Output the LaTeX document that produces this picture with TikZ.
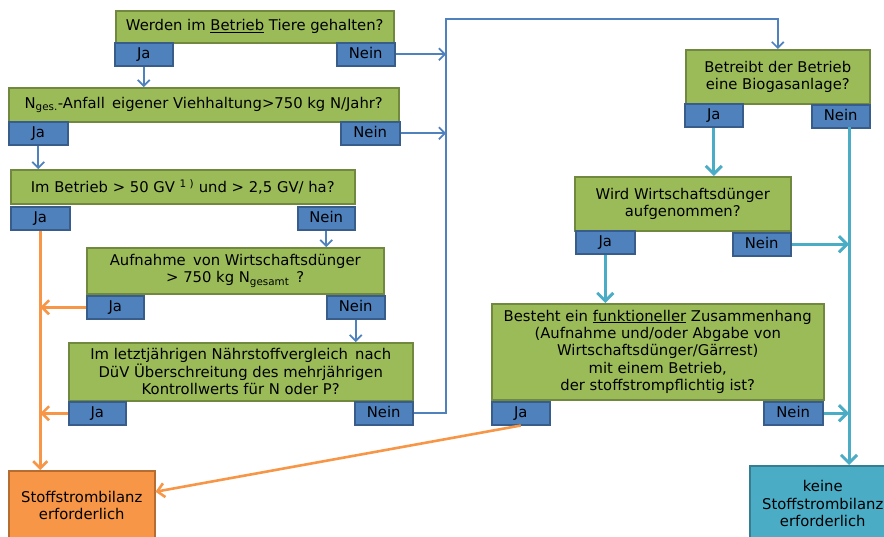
\documentclass[tikz,border=0pt]{standalone}
\usepackage{fontspec}
\setmainfont{DejaVu Sans}
\usepackage{tikz}
\usetikzlibrary{arrows.meta}
\usepackage{xcolor}
\definecolor{gruen}{HTML}{9BBB59}
\definecolor{gruenrand}{HTML}{71893F}
\definecolor{blau}{HTML}{4F81BD}
\definecolor{blaurand}{HTML}{385D8A}
\definecolor{orange}{HTML}{F79646}
\definecolor{orangerand}{HTML}{B66D31}
\definecolor{tuerkis}{HTML}{4BACC6}
\definecolor{tuerkisrand}{HTML}{357D91}
\tikzset{
  frage/.style={draw=gruenrand, fill=gruen, line width=1.5pt, anchor=north west, align=center, inner sep=0pt, font=\fontsize{14.8}{17.4}\selectfont},
  antwort/.style={draw=blaurand, fill=blau, line width=1.5pt, anchor=north west, inner sep=0pt, minimum height=23pt, text height=10.5pt, text depth=2.5pt, font=\fontsize{14.8}{17.4}\selectfont},
  blaupfeil/.style={draw=blau, line width=1.6pt, -{Straight Barb[length=6pt,width=12pt]}},
  tuerkispfeil/.style={draw=tuerkis, line width=3pt, -{Straight Barb[length=8pt,width=16pt]}},
  orangepfeil/.style={draw=orange, line width=2.6pt, -{Straight Barb[length=7pt,width=14pt]}}
}

\begin{document}
\begin{tikzpicture}[x=1pt, y=-1pt]
  \useasboundingbox (0,0) rectangle (884,536);
  % linke Spalte
  \node[frage, minimum width=278pt, minimum height=32pt] (frage1) at (115,10) {Werden im \underline{Betrieb} Tiere gehalten?};
  \node[antwort, minimum width=58pt] (ja1) at (114,42) {Ja};
  \node[antwort, minimum width=58pt] (nein1) at (336,42) {Nein};
  \node[frage, minimum width=390pt, minimum height=34pt] (frage2) at (8,87) {N\textsubscript{ges.}-Anfall\, eigener Viehhaltung>750 kg N/Jahr?};
  \node[antwort, minimum width=59pt] (ja2) at (8,121) {Ja};
  \node[antwort, minimum width=59pt] (nein2) at (340,121) {Nein};
  \node[frage, minimum width=344pt, minimum height=34pt] (frage3) at (10,169) {Im Betrieb > 50 GV \textsuperscript{1 )} und > 2,5 GV/ ha?};
  \node[antwort, minimum width=59pt] (ja3) at (10,206) {Ja};
  \node[antwort, minimum width=57pt] (nein3) at (297,206) {Nein};
  \node[frage, minimum width=297pt, minimum height=46pt] (frage4) at (86,247) {Aufnahme\, von Wirtschaftsdünger\\> 750 kg N\textsubscript{gesamt}\, ?};
  \node[antwort, minimum width=57pt] (ja4) at (86,295) {Ja};
  \node[antwort, minimum width=58pt] (nein4) at (326,295) {Nein};
  \node[frage, minimum width=344pt, minimum height=58pt] (frage5) at (68,342) {Im letztjährigen Nährstoffvergleich\, nach\\DüV Überschreitung des mehrjährigen\\Kontrollwerts für N oder P?};
  \node[antwort, minimum width=57pt] (ja5) at (68,401) {Ja};
  \node[antwort, minimum width=58pt] (nein5) at (354,401) {Nein};
  % rechte Spalte
  \node[frage, minimum width=184pt, minimum height=54pt] (frage6) at (685,49) {Betreibt der Betrieb\\eine Biogasanlage?};
  \node[antwort, minimum width=58pt] (ja6) at (684,103) {Ja};
  \node[antwort, minimum width=58pt] (nein6) at (811,104) {Nein};
  \node[frage, minimum width=216pt, minimum height=54pt] (frage7) at (574,176) {Wird Wirtschaftsdünger\\aufgenommen?};
  \node[antwort, minimum width=59pt] (ja7) at (575,230) {Ja};
  \node[antwort, minimum width=58pt] (nein7) at (732,232) {Nein};
  \node[frage, minimum width=332pt, minimum height=96pt] (frage8) at (491,303) {Besteht ein \underline{funktioneller} Zusammenhang\\(Aufnahme und/oder Abgabe von\\Wirtschaftsdünger/Gärrest)\\mit einem Betrieb,\\der stoffstrompflichtig ist?};
  \node[antwort, minimum width=58pt] (ja8) at (491,401) {Ja};
  \node[antwort, minimum width=59pt] (nein8) at (763,401) {Nein};
  % Ergebnisse
  \node[frage, draw=orangerand, fill=orange, minimum width=146pt, minimum height=70pt] (stoff) at (8,470) {Stoffstrombilanz\\erforderlich};
  \node[frage, draw=tuerkisrand, fill=tuerkis, minimum width=146pt, minimum height=76pt] (keine) at (749,465) {keine\\Stoffstrombilanz\\erforderlich};
  \coordinate (sammel) at (446,19);
  \coordinate (tuerkisbus) at (849,127);
  % Verbindungen
  \draw[blaupfeil] (ja1.south) -- (ja1.south |- frage2.north);
  \draw[blaupfeil] (ja2.south) -- (ja2.south |- frage3.north);
  \draw[blaupfeil] (nein3.south) -- (nein3.south |- frage4.north);
  \draw[blaupfeil] (nein4.south) -- (nein4.south |- frage5.north);
  \draw[blaupfeil] (nein1.east) -- (nein1.east -| sammel);
  \draw[blaupfeil] (nein2.east) -- (nein2.east -| sammel);
  \draw[blaupfeil] (nein5.east) -| (sammel) -| (frage6.north);
  \draw[orangepfeil] (ja3.south) -- (ja3.south |- stoff.north);
  \draw[orangepfeil] (ja4.west) -- (ja4.west -| ja3.south);
  \draw[orangepfeil] (ja5.west) -- (ja5.west -| ja3.south);
  \draw[orangepfeil] (ja8.south) -- ([yshift=14pt]stoff.east);
  \draw[tuerkispfeil] (ja6.south) -- (ja6.south |- frage7.north);
  \draw[tuerkispfeil] (ja7.south) -- (ja7.south |- frage8.north);
  \draw[tuerkispfeil] (tuerkisbus) -- (tuerkisbus |- keine.north);
  \draw[tuerkispfeil] (nein7.east) -- (nein7.east -| tuerkisbus);
  \draw[tuerkispfeil] (nein8.east) -- (nein8.east -| tuerkisbus);
\end{tikzpicture}
\end{document}
